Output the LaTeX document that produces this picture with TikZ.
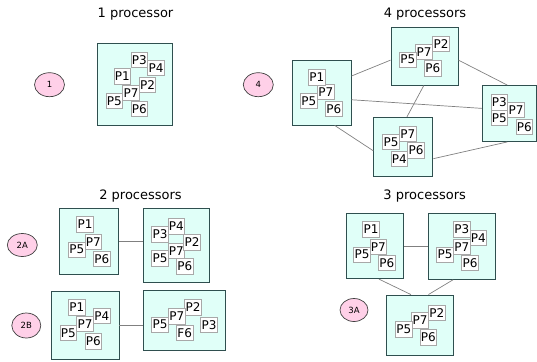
\documentclass[tikz,border=0pt]{standalone}
\usepackage{fontspec}
\setmainfont{DejaVu Sans}
\usetikzlibrary{shapes.geometric,calc}
\definecolor{boxfill}{HTML}{E0FFF8}
\definecolor{boxline}{HTML}{2F4F4F}
\definecolor{pinkfill}{HTML}{FFD0E8}
\definecolor{labline}{HTML}{A8A8A8}
\definecolor{conn}{HTML}{808080}
\tikzset{
  pbox/.style={draw=boxline, fill=boxfill, line width=0.9pt, inner sep=0pt},
  lab/.style={draw=labline, fill=white, line width=0.7pt, inner sep=0pt,
    minimum width=16.6pt, minimum height=15.5pt, font=\fontsize{12}{12}\selectfont},
  tag/.style={ellipse, draw=black!75, fill=pinkfill, line width=0.7pt, inner sep=0pt,
    font=\fontsize{8.5}{8.5}\selectfont},
  ttl/.style={anchor=base, font=\fontsize{13}{13}\selectfont},
  link/.style={draw=conn, line width=0.7pt}
}
\begin{document}
\begin{tikzpicture}[x=1pt,y=-1pt]
\useasboundingbox (0,0) rectangle (537,361);

% titles
\node[ttl] (t1) at (135.5,17.5) {1 processor};
\node[ttl] (t4) at (425,17.5) {4 processors};
\node[ttl] (t2) at (140.5,199) {2 processors};
\node[ttl] (t3) at (424.7,199.5) {3 processors};

% tags
\node[tag, minimum width=30pt, minimum height=24pt] (e1) at (49.5,84.7) {1};
\node[tag, minimum width=30pt, minimum height=24pt] (e4) at (258.3,84.7) {4};
\node[tag, minimum width=30pt, minimum height=23pt] (e2a) at (22.3,245) {2A};
\node[tag, minimum width=29pt, minimum height=25pt] (e2b) at (26.3,325.5) {2B};
\node[tag, minimum width=28pt, minimum height=23pt] (e3a) at (354,310) {3A};

% ---------- 1 processor ----------
\node[pbox, minimum width=75pt, minimum height=82pt] (one) at (135,84) {};
\node[lab] (o7) at (131,93) {P7};
\node[lab] (o3) at (139.2,60) {P3};
\node[lab] (o4) at (156,68) {P4};
\node[lab] (o1) at (122.3,76.2) {P1};
\node[lab] (o2) at (147.5,84.7) {P2};
\node[lab] (o5) at (114.3,101) {P5};
\node[lab] (o6) at (139.2,108.8) {P6};

% ---------- 4 processors ----------
\node[pbox, minimum width=59pt, minimum height=65pt] (fa) at (321.5,92.5) {};
\node[pbox, minimum width=67pt, minimum height=58pt] (fb) at (424.5,56) {};
\node[pbox, minimum width=54pt, minimum height=56pt] (fc) at (509.4,113.5) {};
\node[pbox, minimum width=59pt, minimum height=59pt] (fd) at (403.4,146.7) {};

\draw[link] ($(fa.north east)!0.25!(fa.south east)$) -- ($(fb.north west)!0.57!(fb.south west)$);
\draw[link] ($(fa.north east)!0.61!(fa.south east)$) -- ($(fc.north west)!0.41!(fc.south west)$);
\draw[link] ($(fa.south west)!0.72!(fa.south east)$) -- ($(fd.north west)!0.57!(fd.south west)$);
\draw[link] ($(fb.north east)!0.57!(fb.south east)$) -- ($(fc.north west)!0.46!(fc.north east)$);
\draw[link] ($(fb.south west)!0.49!(fb.south east)$) -- ($(fd.north west)!0.56!(fd.north east)$);
\draw[link] ($(fc.south west)!0.46!(fc.south east)$) -- ($(fd.north east)!0.70!(fd.south east)$);

% box A
\node[lab] (fa7) at (325.7,92) {P7};
\node[lab] (fa1) at (316.7,77.2) {P1};
\node[lab] (fa5) at (308.7,100.8) {P5};
\node[lab] (fa6) at (333.7,108.8) {P6};
% box B
\node[lab] (fb2) at (441,43.8) {P2};
\node[lab] (fb7) at (424,52) {P7};
\node[lab] (fb5) at (407.7,59.7) {P5};
\node[lab] (fb6) at (432.7,68.3) {P6};
% box C
\node[lab] (fc7) at (516,110) {P7};
\node[lab] (fc3) at (499.3,102.5) {P3};
\node[lab] (fc5) at (499.3,118) {P5};
\node[lab] (fc6) at (524.3,126.8) {P6};
% box D
\node[lab] (fd7) at (407.7,134) {P7};
\node[lab] (fd5) at (391,142) {P5};
\node[lab] (fd6) at (416,150.5) {P6};
\node[lab] (fd4) at (399.3,158.7) {P4};

% ---------- 2 processors ----------
\node[pbox, minimum width=59pt, minimum height=66pt] (tal) at (88.8,241.2) {};
\node[pbox, minimum width=66pt, minimum height=74pt] (tar) at (176.2,245.2) {};
\node[pbox, minimum width=68pt, minimum height=68pt] (tbl) at (85,325) {};
\node[pbox, minimum width=82pt, minimum height=60pt] (tbr) at (184.3,320.8) {};
\draw[link] (tal.east) -- (tal.east -| tar.west);
\draw[link] (tbl.east) -- (tbl.east -| tbr.west);

\node[lab] (tal1) at (85,224.5) {P1};
\node[lab] (tal7) at (93.3,241.7) {P7};
\node[lab] (tal5) at (76.7,249.7) {P5};
\node[lab] (tal6) at (101.7,258.7) {P6};

\node[lab] (tar4) at (176.3,226.3) {P4};
\node[lab] (tar3) at (160,234.5) {P3};
\node[lab] (tar7) at (176.3,250.8) {P7};
\node[lab] (tar2) at (192,242.5) {P2};
\node[lab] (tar5) at (160,258.3) {P5};
\node[lab] (tar6) at (184.7,266.3) {P6};

\node[lab] (tbl1) at (76.7,307.2) {P1};
\node[lab] (tbl4) at (101.7,315.8) {P4};
\node[lab] (tbl7) at (85,324) {P7};
\node[lab] (tbl5) at (68.3,332.8) {P5};
\node[lab] (tbl6) at (93.3,341.3) {P6};

\node[lab] (tbr2) at (193,307.5) {P2};
\node[lab] (tbr7) at (176.7,316.3) {P7};
\node[lab] (tbr5) at (160,324.7) {P5};
\node[lab] (tbr3) at (209,324.7) {P3};
\node[lab] (tbr6) at (184.7,332.8) {F6};

% ---------- 3 processors ----------
\node[pbox, minimum width=56.6pt, minimum height=65.4pt] (hl) at (375,246) {};
\node[pbox, minimum width=67.4pt, minimum height=66pt] (hr) at (462,246.3) {};
\node[pbox, minimum width=66.6pt, minimum height=60pt] (hb) at (420,325) {};
\draw[link] (hl.east) -- (hl.east -| hr.west);
\draw[link] ($(hl.south west)!0.57!(hl.south east)$) -- ($(hb.north west)!0.365!(hb.north east)$);
\draw[link] ($(hr.south west)!0.37!(hr.south east)$) -- ($(hb.north west)!0.625!(hb.north east)$);

\node[lab] (hl1) at (371,229.5) {P1};
\node[lab] (hl7) at (378.3,247) {P7};
\node[lab] (hl5) at (362,254.7) {P5};
\node[lab] (hl6) at (386.7,263) {P6};

\node[lab] (hr3) at (461.7,229.5) {P3};
\node[lab] (hr4) at (478.3,238) {P4};
\node[lab] (hr7) at (461.7,247) {P7};
\node[lab] (hr5) at (445,254.7) {P5};
\node[lab] (hr6) at (470,263) {P6};

\node[lab] (hb2) at (436.7,312.8) {P2};
\node[lab] (hb7) at (420,320.5) {P7};
\node[lab] (hb5) at (403.7,329.5) {P5};
\node[lab] (hb6) at (428.3,337.2) {P6};
\end{tikzpicture}
\end{document}
